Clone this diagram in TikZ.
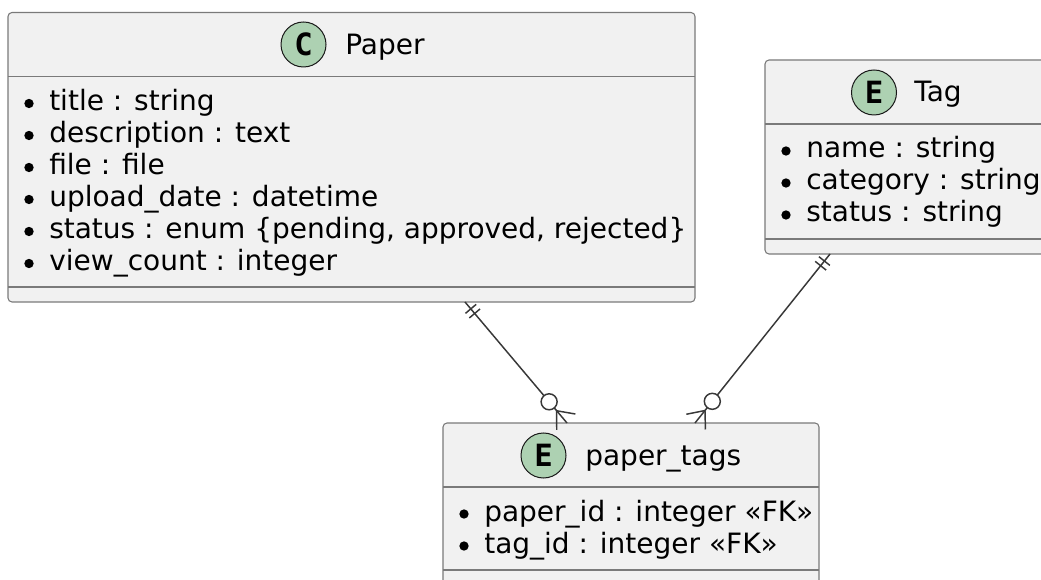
\documentclass[tikz,border=0pt]{standalone}
\usepackage{fontspec}
\setmainfont{DejaVu Sans}
\newfontfamily\iconfont{DejaVu Sans Mono}
\usetikzlibrary{calc}

\definecolor{boxfill}{HTML}{F1F1F1}
\definecolor{boxline}{HTML}{7A7A7A}
\definecolor{iconfill}{HTML}{ADD1B2}
\definecolor{inkline}{HTML}{181818}
\definecolor{linkline}{HTML}{383838}

\tikzset{
  entity/.style={draw=boxline, fill=boxfill, line width=0.8pt, rounded corners=3pt,
    inner sep=0pt, outer sep=0pt, anchor=north west},
  divider/.style={draw=boxline, line width=0.8pt},
  icon/.style={circle, draw=inkline, fill=iconfill, line width=0.75pt,
    minimum size=33.75pt, inner sep=0pt,
    font=\iconfont\bfseries\fontsize{23pt}{23pt}\selectfont},
  title/.style={anchor=base west, inner sep=0pt, font=\fontsize{21pt}{25pt}\selectfont},
  attr/.style={anchor=base west, inner sep=0pt, font=\fontsize{21pt}{25pt}\selectfont},
  dot/.style={circle, fill=black, minimum size=7pt, inner sep=0pt},
  link/.style={draw=linkline, line width=1.1pt},
}

% one-and-only-one at #1, zero-or-many at #2
\newcommand\erOneToMany[2]{%
  \coordinate (#1-ta) at ($(#1)!6.75pt!(#2)$);
  \coordinate (#1-tb) at ($(#1)!11.25pt!(#2)$);
  \coordinate (#2-apex) at ($(#2)!12pt!(#1)$);
  \coordinate (#2-ring) at ($(#2)!20.8pt!(#1)$);
  \draw[link] (#1) -- (#2);
  \draw[link] ($(#1-ta)!5.25pt!90:(#2)$) -- ($(#1-ta)!5.25pt!-90:(#2)$);
  \draw[link] ($(#1-tb)!5.25pt!90:(#2)$) -- ($(#1-tb)!5.25pt!-90:(#2)$);
  \draw[link] ($(#2-apex)!14.25pt!40:(#2)$) -- (#2-apex) -- ($(#2-apex)!14.25pt!-40:(#2)$);
  \draw[link, fill=white] (#2-ring) circle[radius=6pt];
}

\begin{document}
\begin{tikzpicture}[x=0.75pt,y=-0.75pt]
\fill[white] (0,0) rectangle (1041,580);
\useasboundingbox (0,0) rectangle (1041,580);
\clip (0,0) rectangle (1041,580);

% ---- Paper ----
\node[entity, minimum width=515.25pt, minimum height=217.125pt] (paper) at (8,12.5) {};
\draw[divider] ($(paper.north west)+(0,64)$) -- ($(paper.north east)+(0,64)$);
\draw[divider] ($(paper.south west)+(0,-15)$) -- ($(paper.south east)+(0,-15)$);
\node[icon] (paper-icon) at ($(paper.north west)+(295.5,32)$) {C};
\node[title] (paper-title) at ($(paper.north west)+(337,42)$) {Paper};
\node[dot] (pd1) at ($(paper.north west)+(21,91)$) {};
\node[dot] (pd2) at ($(paper.north west)+(21,123)$) {};
\node[dot] (pd3) at ($(paper.north west)+(21,155)$) {};
\node[dot] (pd4) at ($(paper.north west)+(21,187)$) {};
\node[dot] (pd5) at ($(paper.north west)+(21,219)$) {};
\node[dot] (pd6) at ($(paper.north west)+(21,251)$) {};
\node[attr] (pa1) at ($(paper.north west)+(41,98)$) {title : string};
\node[attr] (pa2) at ($(paper.north west)+(41,130)$) {description : text};
\node[attr] (pa3) at ($(paper.north west)+(41,162)$) {file : file};
\node[attr] (pa4) at ($(paper.north west)+(41,194)$) {upload\_date : datetime};
\node[attr] (pa5) at ($(paper.north west)+(41,226)$) {status : enum \{pending, approved, rejected\}};
\node[attr] (pa6) at ($(paper.north west)+(41,258)$) {view\_count : integer};

% ---- Tag ----
\node[entity, minimum width=214.5pt, minimum height=145.5pt] (tag) at (765,60) {};
\draw[divider] ($(tag.north west)+(0,64)$) -- ($(tag.north east)+(0,64)$);
\draw[divider] ($(tag.south west)+(0,-15)$) -- ($(tag.south east)+(0,-15)$);
\node[icon] (tag-icon) at ($(tag.north west)+(109,32.5)$) {E};
\node[title] (tag-title) at ($(tag.north west)+(149,42)$) {Tag};
\node[dot] (td1) at ($(tag.north west)+(21,91)$) {};
\node[dot] (td2) at ($(tag.north west)+(21,123)$) {};
\node[dot] (td3) at ($(tag.north west)+(21,155)$) {};
\node[attr] (ta1) at ($(tag.north west)+(41,98)$) {name : string};
\node[attr] (ta2) at ($(tag.north west)+(41,130)$) {category : string};
\node[attr] (ta3) at ($(tag.north west)+(41,162)$) {status : string};

% ---- paper_tags ----
\node[entity, minimum width=282pt, minimum height=122.25pt] (ptags) at (443,423) {};
\draw[divider] ($(ptags.north west)+(0,64)$) -- ($(ptags.north east)+(0,64)$);
\draw[divider] ($(ptags.north west)+(0,147)$) -- ($(ptags.north east)+(0,147)$);
\node[icon] (ptags-icon) at ($(ptags.north west)+(100.5,32.5)$) {E};
\node[title] (ptags-title) at ($(ptags.north west)+(142,42)$) {paper\_tags};
\node[dot] (ptd1) at ($(ptags.north west)+(21,91)$) {};
\node[dot] (ptd2) at ($(ptags.north west)+(21,123)$) {};
\node[attr] (pta1) at ($(ptags.north west)+(41,98)$) {paper\_id : integer «FK»};
\node[attr] (pta2) at ($(ptags.north west)+(41,130)$) {tag\_id : integer «FK»};

% ---- relationships ----
\coordinate (rel1-from) at ($(paper.south west)+(457,0)$);
\coordinate (rel1-to) at ($(ptags.north west)+(124,0)$);
\coordinate (rel2-from) at ($(tag.south west)+(65,0)$);
\coordinate (rel2-to) at ($(ptags.north west)+(252,0)$);
\erOneToMany{rel1-from}{rel1-to}
\erOneToMany{rel2-from}{rel2-to}
\end{tikzpicture}
\end{document}
